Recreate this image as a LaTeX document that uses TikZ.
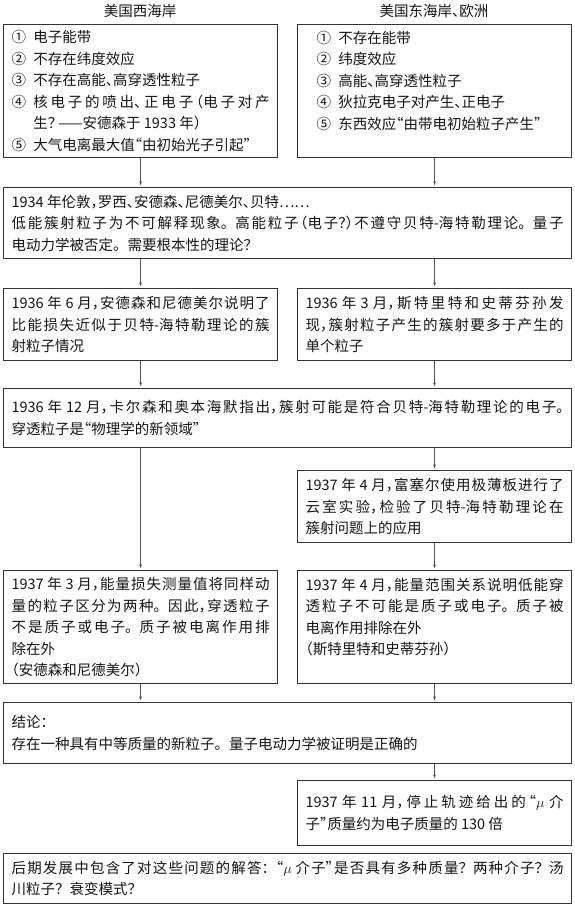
\documentclass[tikz,border=0pt]{standalone}
\usepackage{fontspec}
\setmainfont{Noto Sans CJK SC}[RawFeature={+halt}]
\usetikzlibrary{arrows.meta}
\usetikzlibrary{calc}
\XeTeXlinebreaklocale "zh"
\XeTeXlinebreakskip=0pt plus 4pt
\setlength{\parindent}{0pt}
\tolerance=9999
\newcommand{\jd}{。\kern.5em}
\newcommand{\wh}{？\kern.5em}
\newcommand{\mh}{：\kern.5em}
\definecolor{boxline}{HTML}{333333}
\definecolor{arrowc}{HTML}{555555}
\definecolor{textc}{HTML}{151515}
\tikzset{
  box/.style={draw=boxline, line width=1.2pt, anchor=north west, inner xsep=8pt, inner ysep=0pt,
    align=justify, text=textc, font=\fontsize{14.5}{21.5}\selectfont},
  narrow/.style={box, text width=258pt, minimum width=274pt},
  wide/.style={box, text width=552pt, minimum width=568pt},
  arr/.style={draw=arrowc, line width=.6pt, -{Latex[length=4pt,width=3pt]}, shorten >=1.5pt},
}
\begin{document}
\begin{tikzpicture}[x=1pt,y=-1pt]
          \useasboundingbox (0,0) rectangle (575,910);
          \node[text=textc, font=\fontsize{14.5}{21.5}\selectfont] (westT) at (140, 11) {美国西海岸};
          \node[text=textc, font=\fontsize{14.5}{21.5}\selectfont] (eastT) at (434, 11) {美国东海岸、欧洲};
          \node[narrow, minimum height=133pt] (wA) at (3, 24) {①\enspace 电子能带\\
            ②\enspace 不存在纬度效应\\
            ③\enspace 不存在高能、高穿透性粒子\\
            ④\enspace 核电子的喷出、正电子（电子对产\break
            \hspace*{1.5em}生？ ——安德森于 1933 年）\\
            ⑤\enspace 大气电离最大值“由初始光子引起”};
          \node[narrow, inner xsep=19pt, text width=236pt, minimum height=133pt] (eA) at (297, 24) {①\enspace 不存在能带\\
            ②\enspace 纬度效应\\
            ③\enspace 高能、高穿透性粒子\\
            ④\enspace 狄拉克电子对产生、正电子\\
            ⑤\enspace 东西效应“由带电初始粒子产生”\\ \mbox{}};
          %
          \node[wide, minimum height=71pt] (gen34) at (3, 187) {1934 年伦敦，罗西、安德森、尼德美尔、贝特……\\
            低能簇射粒子为不可解释现象\jd 高能粒子（电子？）不遵守贝特-海特勒理论\jd 量子\break
            电动力学被否定\jd 需要根本性的理论？};
          \node[narrow, minimum height=72pt] (w36) at (3, 288) {1936 年 6 月，安德森和尼德美尔说明了\break
            比能损失近似于贝特-海特勒理论的簇\break
            射粒子情况};
          \node[narrow, minimum height=72pt] (e36) at (297, 288) {1936 年 3 月，斯特里特和史蒂芬孙发\break
            现，簇射粒子产生的簇射要多于产生的\break
            单个粒子};
          \node[wide, minimum height=59pt] (dec36) at (3, 388) {1936 年 12 月，卡尔森和奥本海默指出，簇射可能是符合贝特-海特勒理论的电子。\break
            穿透粒子是“物理学的新领域”};
          \node[narrow, minimum height=72pt] (e37a) at (297, 470) {1937 年 4 月，富塞尔使用极薄板进行了\break
            云室实验，检验了贝特-海特勒理论在\break
            簇射问题上的应用};
          %
          \node[narrow, minimum height=113pt] (w37) at (3, 570) {1937 年 3 月，能量损失测量值将同样动\break
            量的粒子区分为两种\jd 因此，穿透粒子\break
            不是质子或电子\jd 质子被电离作用排\break
            除在外\\
            （安德森和尼德美尔）};
          \node[narrow, minimum height=113pt] (e37b) at (297, 570) {1937 年 4 月，能量范围关系说明低能穿\break
            透粒子不可能是质子或电子\jd 质子被\break
            电离作用排除在外\\
            （斯特里特和史蒂芬孙）\\ \mbox{}};
          \node[wide, minimum height=61pt] (concl) at (3, 702) {结论：\\
            存在一种具有中等质量的新粒子\jd 量子电动力学被证明是正确的};
          \node[narrow, minimum height=65pt] (nov37) at (297, 780) {1937 年 11 月，停止轨迹给出的“$\mu$ 介\break
            子”质量约为电子质量的 130 倍};
          \node[wide, minimum height=50pt] (later) at (3, 853) {后期发展中包含了对这些问题的解答\mh“$\mu$ 介子”是否具有多种质量\wh 两种介子\wh 汤\break
            川粒子\wh 衰变模式？};
          %
          \draw[arr] (wA.south) -- (wA.south |- gen34.north);
          \draw[arr] (eA.south) -- (eA.south |- gen34.north);
          \draw[arr] (gen34.south -| w36) -- (w36.north);
          \draw[arr] (gen34.south -| e36) -- (e36.north);
          \draw[arr] (w36.south) -- (w36.south |- dec36.north);
          \draw[arr] (e36.south) -- (e36.south |- dec36.north);
          \draw[arr] (dec36.south -| e37a) -- (e37a.north);
          \draw[arr] (dec36.south -| w37) -- (w37.north);
          \draw[arr] (e37a.south) -- (e37b.north);
          \draw[arr] (w37.south) -- (w37.south |- concl.north);
          \draw[arr] (e37b.south) -- (e37b.south |- concl.north);
          \draw[arr] (concl.south -| nov37) -- (nov37.north);
        \end{tikzpicture}
\end{document}
